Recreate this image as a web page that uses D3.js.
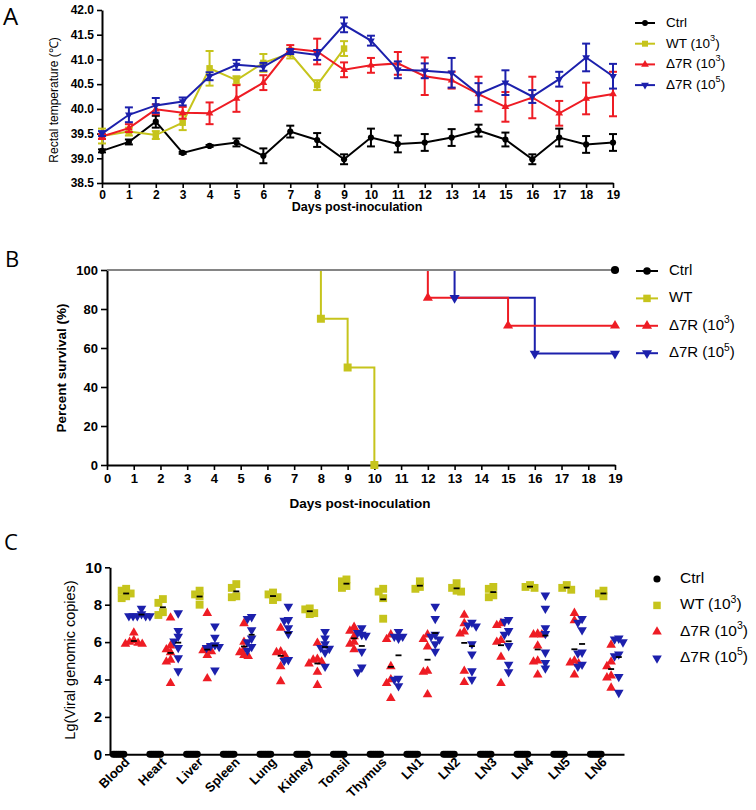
<!DOCTYPE html>
<html><head><meta charset="utf-8">
<script src="https://cdn.jsdelivr.net/npm/d3@7"></script>
<style>body{margin:0;background:#fff} svg{display:block}</style>
</head><body><svg id="c" width="756" height="810"></svg>
<script>
// ---------------- DATA ----------------
const days = d3.range(0, 20);
const tempTicks = [38.5, 39.0, 39.5, 40.0, 40.5, 41.0, 41.5, 42.0];
const ctrlMean = [39.15,39.33,39.74,39.11,39.25,39.32,39.05,39.54,39.37,38.98,39.42,39.29,39.32,39.42,39.56,39.38,38.98,39.42,39.28,39.32];
const ctrlErr  = [0.03,0.05,0.12,0.02,0.02,0.08,0.15,0.12,0.14,0.10,0.18,0.17,0.17,0.17,0.12,0.14,0.10,0.18,0.17,0.17];
const wtMean   = [39.45,39.54,39.47,39.72,40.82,40.58,40.93,41.12,40.48,41.22];
const wtErr    = [0.15,0.08,0.08,0.15,0.35,0.08,0.18,0.10,0.10,0.15];
const redMean  = [39.44,39.61,39.99,39.92,39.91,40.21,40.53,41.22,41.16,40.79,40.88,40.92,40.66,40.58,40.30,40.04,40.23,39.91,40.21,40.30];
const redErr   = [0.05,0.08,0.10,0.12,0.22,0.27,0.15,0.07,0.26,0.15,0.15,0.23,0.38,0.17,0.35,0.30,0.42,0.25,0.32,0.45];
const blueMean = [39.50,39.88,40.07,40.15,40.66,40.89,40.85,41.16,41.09,41.70,41.38,40.79,40.77,40.73,40.30,40.53,40.25,40.60,41.04,40.66];
const blueErr  = [0.05,0.15,0.15,0.08,0.08,0.10,0.08,0.05,0.10,0.15,0.10,0.17,0.15,0.30,0.22,0.25,0.13,0.15,0.28,0.25];

const survTicks = [0, 20, 40, 60, 80, 100];
const survCtrlDays = [0, 19],          survCtrl = [100, 100];
const survWtDays   = [0, 8, 9, 10],    survWt   = [100, 75, 50, 0];
const survRedDays  = [0, 12, 15, 19],  survRed  = [100, 85.71, 71.43, 71.43];
const survBlueDays = [0, 13, 16, 19],  survBlue = [100, 85.71, 57.14, 57.14];

const tissues = ["Blood","Heart","Liver","Spleen","Lung","Kidney","Tonsil","Thymus","LN1","LN2","LN3","LN4","LN5","LN6"];
const copyTicks = [0, 2, 4, 6, 8, 10];
const ctrlCopies = tissues.map(() => [0,0,0,0,0,0,0]);
const wtCopies = [
 [8.85,8.75,8.6,8.45,8.35],[8.3,8.1,7.6,7.45],[8.75,8.55,8.45,8.0],[9.1,8.9,8.45,8.4],
 [8.65,8.55,8.4,8.25],[7.8,7.75,7.55,7.5],[9.35,9.25,9.0,8.9],[8.85,8.7,8.35,7.25],
 [9.25,8.95,8.85],[9.15,8.9,8.75,8.7],[8.95,8.85,8.5,8.4],[9.05,8.95,8.9],[9.05,8.9,8.8],[8.75,8.6,8.45]];
const redCopies = [
 [6.5,6.1,6.0,5.95,5.9,5.9],[7.3,5.8,5.6,5.45,5.05,4.95,3.8],[7.55,5.65,5.55,5.5,5.3,4.05],
 [7.0,6.0,5.6,5.45,5.3,5.25],[6.75,5.5,5.45,5.3,4.7,3.9],[5.95,5.1,5.05,4.95,4.85,4.4,3.7],
 [6.8,6.6,6.3,6.0,5.9,5.6],[6.4,6.15,4.7,4.0,3.8,3.0],[6.4,6.15,5.75,4.45,4.4,3.2],
 [7.45,7.0,6.55,6.45,4.45,3.85],[7.0,6.9,6.1,6.0,5.2,3.8],[6.45,6.4,6.4,5.8,5.0,4.95,4.25],
 [7.55,7.15,5.0,4.9,4.85,4.25],[5.85,4.95,4.7,4.2,4.1,3.55]];
const blueCopies = [
 [7.8,7.5,7.4,7.4,7.4,7.4,7.4],[7.55,6.6,6.3,6.05,5.7,5.15,4.45],[6.85,6.25,5.85,5.8,5.75,5.7,4.5],
 [7.35,7.25,6.65,6.2,6.0,5.75,5.55],[7.9,7.2,7.15,6.75,6.45,5.05,5.0],[6.55,6.2,5.9,5.7,5.65,5.45,4.7],
 [6.75,6.5,6.4,6.35,5.5,4.65,4.4],[6.55,6.3,6.3,6.2,4.05,4.0,3.65],[7.9,7.25,6.4,6.3,6.15,5.9,5.5],
 [7.05,6.9,6.85,5.9,5.35,4.45,4.0],[7.2,7.1,6.6,6.4,5.8,4.8,4.4],[8.5,7.8,6.75,6.45,5.45,4.9,4.6],
 [7.25,7.05,6.65,5.45,5.4,4.8,4.7],[6.2,6.15,6.0,5.35,5.25,4.15,3.3]];

// ---------------- STYLE ----------------
const fam = '"Liberation Sans", Arial, sans-serif';
const col = {ctrl:"#000000", wt:"#c6c41c", red:"#ee1c24", blue:"#1c20ac"};
const svg = d3.select("#c");

function styleAxis(g, fs) {
  g.select(".domain").attr("stroke","#000").attr("stroke-width",2);
  g.selectAll(".tick line").attr("stroke","#000").attr("stroke-width",1.6);
  g.selectAll(".tick text").attr("font-family",fam).attr("font-weight","bold")
    .attr("font-size",fs).attr("fill","#000");
}
function sym(key, size) {
  const t = key==="ctrl" ? d3.symbolCircle : key==="wt" ? d3.symbolSquare : d3.symbolTriangle;
  return d3.symbol().type(t).size(size)();
}
function symRot(key){ return key==="blue" ? " rotate(180)" : ""; }
function supLabel(t, base, sup, fs) {
  t.append("tspan").text(base);
  if (sup) {
    t.append("tspan").attr("dy",-fs*0.38).attr("font-size",fs*0.68).text(sup);
    t.append("tspan").attr("dy",fs*0.38).text(")");
  }
}
function panelLetter(txt, x, y, fs) {
  svg.append("text").attr("x",x).attr("y",y).attr("font-family",'"Open Sans","Noto Sans",sans-serif')
    .attr("font-size",fs).attr("fill","#000").text(txt);
}

// ---------------- PANEL A ----------------
panelLetter("A", 3, 25, 24);
const xA = d3.scaleLinear().domain([0,19]).range([102,613]);
const yA = d3.scaleLinear().domain([38.5,42]).range([183,10]);
const gAy = svg.append("g").attr("transform","translate(102,0)")
  .call(d3.axisLeft(yA).tickValues(tempTicks).tickFormat(d3.format(".1f")).tickSize(5).tickSizeOuter(0).tickPadding(3));
styleAxis(gAy, 12);
const gAx = svg.append("g").attr("transform","translate(0,183)")
  .call(d3.axisBottom(xA).tickValues(days).tickSize(5).tickSizeOuter(0).tickPadding(2));
styleAxis(gAx, 12);
svg.append("text").attr("transform","translate(55,100) rotate(-90)").attr("text-anchor","middle")
  .attr("dominant-baseline","middle").attr("font-family",fam).attr("font-size",12).text("Rectal temperature (℃)");
svg.append("text").attr("x",357).attr("y",211).attr("text-anchor","middle").attr("font-family",fam)
  .attr("font-weight","bold").attr("font-size",12.5).text("Days post-inoculation");

const seriesA = [
  {key:"ctrl", mean:ctrlMean, err:ctrlErr},
  {key:"wt",   mean:wtMean,   err:wtErr},
  {key:"red",  mean:redMean,  err:redErr},
  {key:"blue", mean:blueMean, err:blueErr}
];
seriesA.forEach(s => {
  const pts = s.mean.map((m,i) => ({d:days[i], m, e:s.err[i]}));
  const g = svg.append("g");
  g.append("path").datum(pts).attr("fill","none").attr("stroke",col[s.key]).attr("stroke-width",2)
    .attr("d", d3.line().x(p=>xA(p.d)).y(p=>yA(p.m)));
  const eb = g.selectAll(".eb").data(pts).join("g").attr("stroke",col[s.key]).attr("stroke-width",2);
  eb.append("line").attr("x1",p=>xA(p.d)).attr("x2",p=>xA(p.d)).attr("y1",p=>yA(p.m-p.e)).attr("y2",p=>yA(p.m+p.e));
  eb.append("line").attr("x1",p=>xA(p.d)-4).attr("x2",p=>xA(p.d)+4).attr("y1",p=>yA(p.m-p.e)).attr("y2",p=>yA(p.m-p.e));
  eb.append("line").attr("x1",p=>xA(p.d)-4).attr("x2",p=>xA(p.d)+4).attr("y1",p=>yA(p.m+p.e)).attr("y2",p=>yA(p.m+p.e));
  g.selectAll(".mk").data(pts).join("path").attr("fill",col[s.key])
    .attr("transform",p=>`translate(${xA(p.d)},${yA(p.m)})${symRot(s.key)}`)
    .attr("d", sym(s.key, s.key==="wt"?42:s.key==="ctrl"?30:26));
});
const legA = [{key:"ctrl",base:"Ctrl"},{key:"wt",base:"WT (10",sup:"3"},{key:"red",base:"Δ7R (10",sup:"3"},{key:"blue",base:"Δ7R (10",sup:"5"}];
legA.forEach((l,i) => {
  const y = 23 + i*20.7;
  svg.append("line").attr("x1",635).attr("x2",655).attr("y1",y).attr("y2",y).attr("stroke",col[l.key]).attr("stroke-width",2);
  svg.append("path").attr("transform",`translate(645,${y})${symRot(l.key)}`).attr("fill",col[l.key]).attr("d",sym(l.key,l.key==="wt"?36:26));
  const t = svg.append("text").attr("x",666).attr("y",y).attr("dominant-baseline","middle")
    .attr("font-family",fam).attr("font-size",13.5);
  supLabel(t, l.base, l.sup, 13.5);
});

// ---------------- PANEL B ----------------
panelLetter("B", 5, 267, 22);
const xB = d3.scaleLinear().domain([0,19]).range([107,615]);
const yB = d3.scaleLinear().domain([0,100]).range([465,270]);
const gBy = svg.append("g").attr("transform","translate(107,0)")
  .call(d3.axisLeft(yB).tickValues(survTicks).tickSize(6).tickSizeOuter(0).tickPadding(3));
styleAxis(gBy, 13);
const gBx = svg.append("g").attr("transform","translate(0,465)")
  .call(d3.axisBottom(xB).tickValues(days).tickSize(5).tickSizeOuter(0).tickPadding(4));
styleAxis(gBx, 13);
svg.append("text").attr("transform","translate(62,368) rotate(-90)").attr("text-anchor","middle")
  .attr("dominant-baseline","middle").attr("font-family",fam).attr("font-weight","bold").attr("font-size",13.5)
  .text("Percent survival (%)");
svg.append("text").attr("x",360).attr("y",508).attr("text-anchor","middle").attr("font-family",fam)
  .attr("font-weight","bold").attr("font-size",13.5).text("Days post-inoculation");

const seriesB = [
  {key:"wt",   d:survWtDays,   v:survWt},
  {key:"blue", d:survBlueDays, v:survBlue},
  {key:"red",  d:survRedDays,  v:survRed},
  {key:"ctrl", d:survCtrlDays, v:survCtrl}
];
const stepLine = d3.line().curve(d3.curveStepAfter).x(p=>xB(p.d)).y(p=>yB(p.v));
seriesB.forEach(s => {
  const pts = s.d.map((d,i)=>({d, v:s.v[i]}));
  svg.append("path").datum(pts).attr("fill","none")
    .attr("stroke", s.key==="ctrl" ? "#858585" : col[s.key]).attr("stroke-width",2).attr("d",stepLine);
});
seriesB.forEach(s => {
  const pts = s.d.map((d,i)=>({d, v:s.v[i]})).slice(1);
  svg.selectAll(null).data(pts).join("path").attr("fill",col[s.key])
    .attr("transform",p=>`translate(${xB(p.d)},${yB(p.v)})${symRot(s.key)}`)
    .attr("d", sym(s.key, s.key==="wt"?64:s.key==="ctrl"?52:44));
});
const legB = [{key:"ctrl",base:"Ctrl"},{key:"wt",base:"WT"},{key:"red",base:"Δ7R (10",sup:"3"},{key:"blue",base:"Δ7R (10",sup:"5"}];
legB.forEach((l,i) => {
  const y = 271 + i*27.4;
  svg.append("line").attr("x1",636).attr("x2",658).attr("y1",y).attr("y2",y).attr("stroke",col[l.key]).attr("stroke-width",2);
  svg.append("path").attr("transform",`translate(647,${y})${symRot(l.key)}`).attr("fill",col[l.key]).attr("d",sym(l.key,l.key==="wt"?56:44));
  const t = svg.append("text").attr("x",669).attr("y",y).attr("dominant-baseline","middle")
    .attr("font-family",fam).attr("font-size",15);
  supLabel(t, l.base, l.sup, 15);
});

// ---------------- PANEL C ----------------
panelLetter("C", 4, 550, 22);
const xC = d3.scaleBand().domain(tissues).range([110,624]);
const sub = d3.scalePoint().domain(["ctrl","wt","red","blue"]).range([8.5,31.5]);
const yC = d3.scaleLinear().domain([0,10]).range([754.3,567.3]);

function dodge(values, step, vcoll) {
  const placed = [];
  return values.map(v => {
    const py = yC(v);
    let off = 0;
    for (let k = 0; k < 60; k++) {
      const cand = k===0 ? 0 : (k%2 ? -1 : 1) * Math.ceil(k/2) * step;
      if (!placed.some(p => Math.abs(p.x-cand) < step*0.99 && Math.abs(p.y-py) < vcoll)) { off = cand; break; }
    }
    placed.push({x:off, y:py});
    return off;
  });
}
const seriesC = [
  {key:"ctrl", data:ctrlCopies, step:1.8, size:38},
  {key:"wt",   data:wtCopies,   step:4.5, size:62},
  {key:"red",  data:redCopies,  step:4.2, size:40},
  {key:"blue", data:blueCopies, step:4.2, size:40}
];
seriesC.forEach(s => {
  const g = svg.append("g");
  tissues.forEach((t,i) => {
    const vals = s.data[i];
    const offs = dodge(vals, s.step, 5.5);
    const cx = xC(t) + sub(s.key);
    g.selectAll(null).data(vals.map((v,j)=>({v, o:offs[j]}))).join("path").attr("fill",col[s.key])
      .attr("transform",p=>`translate(${cx+p.o},${yC(p.v)})${symRot(s.key)}`).attr("d",sym(s.key,s.size));
  });
});
seriesC.forEach(s => {
  tissues.forEach((t,i) => {
    const m = d3.mean(s.data[i]);
    const cx = xC(t) + sub(s.key);
    svg.append("line").attr("x1",cx-3).attr("x2",cx+3).attr("y1",yC(m)).attr("y2",yC(m))
      .attr("stroke","#000").attr("stroke-width",1.8);
  });
});
const gCy = svg.append("g").attr("transform","translate(110,0)")
  .call(d3.axisLeft(yC).tickValues(copyTicks).tickSize(5).tickSizeOuter(0).tickPadding(3));
styleAxis(gCy, 15);
const gCx = svg.append("g").attr("transform","translate(0,754.3)")
  .call(d3.axisBottom(xC).tickSize(0).tickSizeOuter(0).tickFormat(""));
styleAxis(gCx, 13);
svg.append("g").selectAll("text").data(tissues).join("text")
  .attr("transform",d=>`translate(${xC(d)+xC.bandwidth()/2+2},763) rotate(-45)`)
  .attr("text-anchor","end").attr("font-family",fam).attr("font-weight","bold").attr("font-size",13).text(d=>d);
svg.append("text").attr("transform","translate(71,660) rotate(-90)").attr("text-anchor","middle")
  .attr("dominant-baseline","middle").attr("font-family",fam).attr("font-size",14.5).text("Lg(Viral genomic copies)");
const legC = [{key:"ctrl",base:"Ctrl"},{key:"wt",base:"WT (10",sup:"3"},{key:"red",base:"Δ7R (10",sup:"3"},{key:"blue",base:"Δ7R (10",sup:"5"}];
legC.forEach((l,i) => {
  const y = 579 + i*26.4;
  svg.append("path").attr("transform",`translate(657,${y})${symRot(l.key)}`).attr("fill",col[l.key]).attr("d",sym(l.key,l.key==="wt"?56:40));
  const t = svg.append("text").attr("x",680).attr("y",y).attr("dominant-baseline","middle")
    .attr("font-family",fam).attr("font-size",15.5);
  supLabel(t, l.base, l.sup, 15.5);
});
</script></body></html>
